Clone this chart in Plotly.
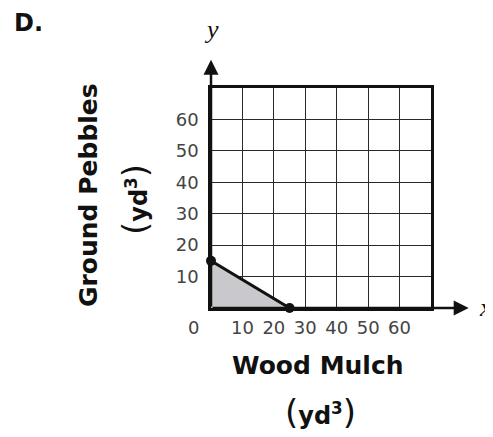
import plotly.graph_objects as go

# data
intercept_x = [0, 25]
intercept_y = [15, 0]
tick_vals = [10, 20, 30, 40, 50, 60]
tick_text = ["10", "20", "30", "40", "50", "60"]
axis_max = 70
x_arrow_end = 82
y_arrow_end = 79

# page body has an 8px margin, so lay out in reference pixels minus that
OFF = 8
W, H = 493 - OFF, 437 - OFF
L, T = 211 - OFF, 88 - OFF
R = W - (431 - OFF)
B = H - (308 - OFF)
PW, PH = W - L - R, H - T - B


def px(x):
    return (x - OFF - L) / PW


def py(y):
    return (H - B - (y - OFF)) / PH


FONT = "DejaVu Sans"
SERIF = "Liberation Serif"

fig = go.Figure()

# shaded feasible region
fig.add_trace(go.Scatter(
    x=[0] + intercept_x + [0],
    y=[0] + intercept_y + [0],
    fill="toself", fillcolor="#c9c9cd",
    mode="lines", line=dict(width=0),
    hoverinfo="skip", showlegend=False,
))

# boundary line with endpoints
fig.add_trace(go.Scatter(
    x=intercept_x, y=intercept_y,
    mode="lines+markers",
    line=dict(color="#111111", width=3),
    marker=dict(color="#111111", size=10),
    cliponaxis=False, showlegend=False,
))

axis_common = dict(
    range=[0, axis_max], tickvals=tick_vals, ticktext=tick_text,
    showgrid=True, gridcolor="#2a2a2a", gridwidth=1.3,
    showline=True, linecolor="#111111", linewidth=2.5, mirror=True,
    zeroline=False, ticks="", fixedrange=True,
    tickfont=dict(family=FONT, size=18, color="#444444"),
)
fig.update_xaxes(**axis_common, ticklabelstandoff=2)
fig.update_yaxes(**axis_common, ticklabelstandoff=6)

annotations = []
# axis arrows
for hx, hy in [(0, y_arrow_end), (x_arrow_end, 0)]:
    annotations.append(dict(
        x=hx, y=hy, ax=0, ay=0, xref="x", yref="y", axref="x", ayref="y",
        text="", showarrow=True, arrowhead=2, arrowsize=1.2, arrowwidth=2.5,
        arrowcolor="#111111", standoff=0,
    ))


def label(xp, yp, text, family=FONT, size=18, color="#111111", angle=0):
    annotations.append(dict(
        x=px(xp), y=py(yp), xref="paper", yref="paper", text=text,
        xanchor="center", yanchor="middle", textangle=angle, showarrow=False,
        font=dict(family=family, size=size, color=color),
    ))


unit = ("<span style='font-size:34px'>(</span><b>yd<sup>3</sup></b>"
        "<span style='font-size:34px'>)</span>")

label(211, 30, "<i>y</i>", family=SERIF, size=26)
label(485, 307, "<i>x</i>", family=SERIF, size=26)
label(193, 327, "0", color="#444444")
label(28, 23, "<b>D.</b>", size=24)
label(318, 365, "<b>Wood Mulch</b>", size=25)
label(320, 412, unit, size=24)
label(88, 195, "<b>Ground Pebbles</b>", size=25, angle=-90)
label(135, 200, unit, size=24, angle=-90)

fig.update_layout(
    width=W, height=H,
    margin=dict(l=L, r=R, t=T, b=B),
    plot_bgcolor="white", paper_bgcolor="white",
    annotations=annotations,
    showlegend=False,
)

fig.write_html("out.html", config={"displayModeBar": False})
